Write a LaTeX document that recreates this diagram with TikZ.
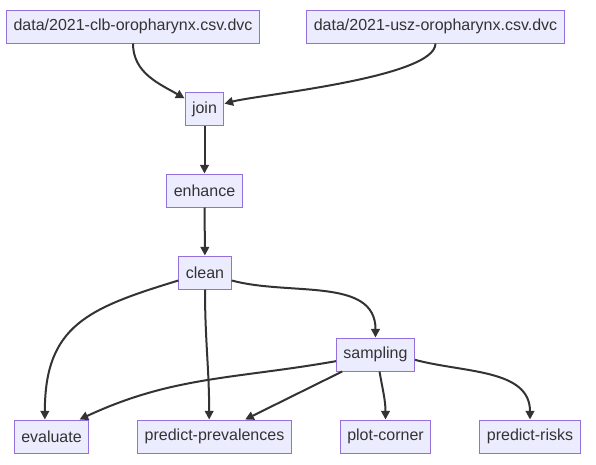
\documentclass[tikz,border=0pt]{standalone}
\usepackage{xcolor}
\definecolor{NodeFill}{HTML}{ECECFF}
\definecolor{NodeLine}{HTML}{9370DB}
\definecolor{Ink}{HTML}{333333}
\usepackage{fontspec}
\setmainfont{Liberation Sans}
\usepackage{tikz}
\usetikzlibrary{arrows.meta, positioning}
\tikzstyle{stage} = [rectangle, draw=NodeLine, fill=NodeFill, text=Ink, font=\fontsize{12}{14}\selectfont, minimum height=24.75pt, inner xsep=5.25pt, line width=0.75pt]
\tikzstyle{arrow} = [-{Triangle[length=6.5pt,width=6.5pt]}, color=Ink, line width=1.5pt]

\begin{document}
\begin{tikzpicture}[x=0.75pt, y=-0.75pt]
        \useasboundingbox (0,0) rectangle (596,464);
        % Stages
        \node [stage] (clb) at (133,26.5) {data/2021-clb-oropharynx.csv.dvc};
        \node [stage] (usz) at (435.5,26.5) {data/2021-usz-oropharynx.csv.dvc};
        \node [stage] (join) at (204.5,109) {join};
        \node [stage] (enhance) at (204.5,190.5) {enhance};
        \node [stage] (clean) at (205,272.5) {clean};
        \node [stage] (sampling) at (375.5,354.5) {sampling};

        \node [stage] (evaluate) at (51.5,436.5) {evaluate};
        \node [stage] (prev) at (214.5,436.5) {predict-prevalences};
        \node [stage] (corner) at (385.5,436.5) {plot-corner};
        \node [stage] (risks) at (530,436.5) {predict-risks};

        % Dependencies
        \draw [arrow] (clb.south) to [out=-90, in=150] ([yshift=8pt]join.west);
        \draw [arrow] (usz.south) to [out=-90, in=15, looseness=0.4] ([yshift=4pt]join.east);
        \draw [arrow] (join) -- (enhance);
        \draw [arrow] (enhance) -- (clean);

        % clean -> outputs
        \draw [arrow] ([yshift=-6pt]clean.west) to [out=197, in=90, looseness=1.25] ([xshift=-5pt]evaluate.north);
        \draw [arrow] (clean.south) to [out=-90, in=90] ([xshift=-4pt]prev.north);
        \draw [arrow] ([yshift=-6pt]clean.east) to [out=-15, in=90] (sampling.north);

        % sampling -> outputs
        \draw [arrow] ([yshift=-5pt]sampling.west) to [out=190, in=25] ([xshift=21pt]evaluate.north);
        \draw [arrow] ([xshift=-25pt]sampling.south) -- ([xshift=23pt]prev.north);
        \draw [arrow] ([xshift=3pt]sampling.south) to [out=-80, in=90] (corner.north);
        \draw [arrow] ([yshift=-4pt]sampling.east) to [out=-15, in=90] (risks.north);
    \end{tikzpicture}
\end{document}
